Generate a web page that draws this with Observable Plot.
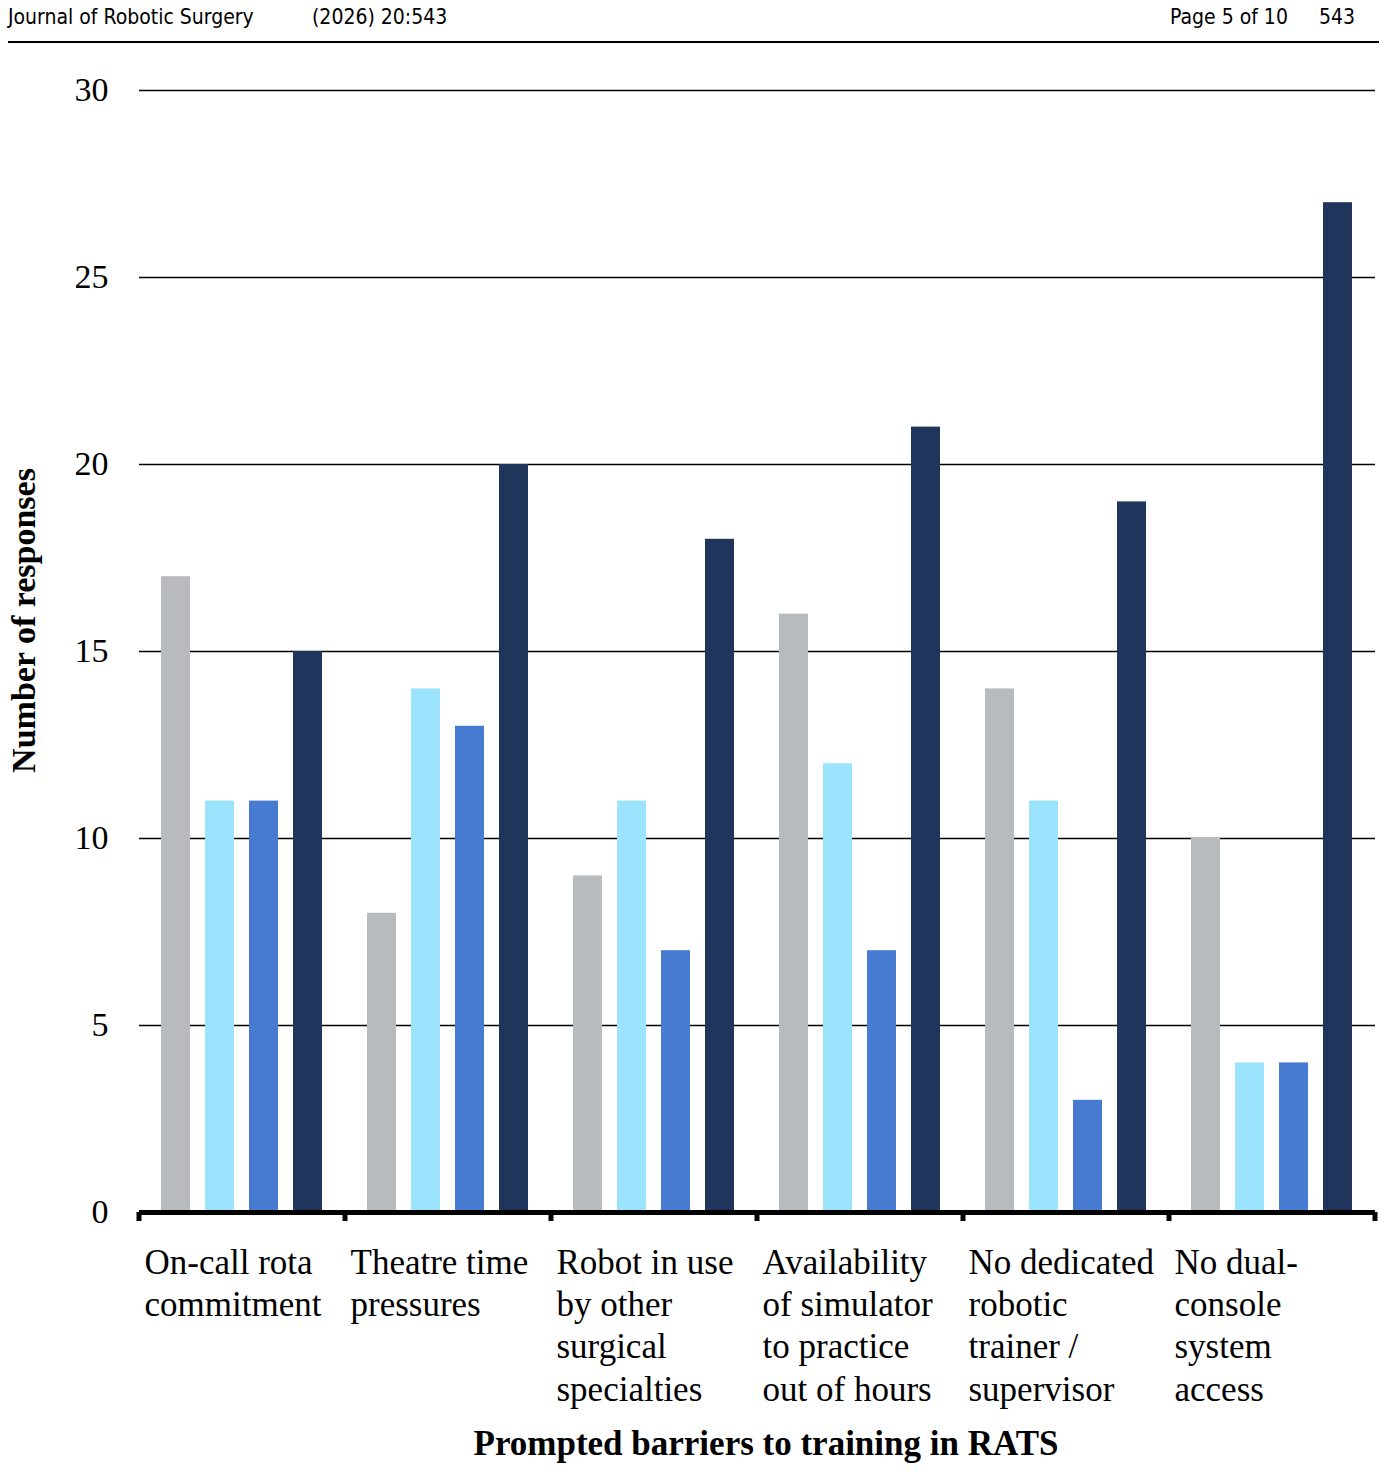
<!DOCTYPE html>
<html>
<head>
<meta charset="utf-8">
<script src="https://cdn.jsdelivr.net/npm/d3@7"></script>
<script src="https://cdn.jsdelivr.net/npm/@observablehq/plot@0.6"></script>
<style>
  html, body { margin: 0; padding: 0; background: #fff; }
  #page { position: relative; width: 1387px; }
  #header { position: relative; height: 45px; font-family: "Liberation Sans Narrow", "DejaVu Sans Condensed", "Open Sans", sans-serif; font-size: 21px; color: #000; }
  #header span { position: absolute; top: 5px; white-space: nowrap; }
  #header .rule { position: absolute; left: 8px; top: 41px; width: 1371px; height: 0; border-top: 2.5px solid #000; }
  #xtitle { font-family: "Liberation Serif", "Times New Roman", serif; font-weight: bold; font-size: 35px; text-align: center; padding-left: 145px; margin-top: 4px; color: #000; }
</style>
</head>
<body>
<div id="page">
  <div id="header">
    <span style="left:8px">Journal of Robotic Surgery</span>
    <span style="left:312px">(2026) 20:543</span>
    <span style="left:1170px">Page 5 of 10</span>
    <span style="left:1319px">543</span>
    <div class="rule"></div>
  </div>
  <div id="chart"></div>
  <div id="xtitle">Prompted barriers to training in RATS</div>
</div>
<script>
// ---- data ----
const categories = [
  "On-call rota commitment",
  "Theatre time pressures",
  "Robot in use by other surgical specialties",
  "Availability of simulator to practice out of hours",
  "No dedicated robotic trainer / supervisor",
  "No dual-console system access"
];
const categoryLabels = [
  "On-call rota\ncommitment",
  "Theatre time\npressures",
  "Robot in use\nby other\nsurgical\nspecialties",
  "Availability\nof simulator\nto practice\nout of hours",
  "No dedicated\nrobotic\ntrainer /\nsupervisor",
  "No dual-\nconsole\nsystem\naccess"
];
const series = ["Series 1", "Series 2", "Series 3", "Series 4"];
const series1 = [17, 8, 9, 16, 14, 10];
const series2 = [11, 14, 11, 12, 11, 4];
const series3 = [11, 13, 7, 7, 3, 4];
const series4 = [15, 20, 18, 21, 19, 27];
const seriesColors = ["#b8bbbe", "#9ce3fd", "#477bd2", "#1f355c"];
const yTicks = [0, 5, 10, 15, 20, 25, 30];
const yTitle = "Number of responses";

const seriesValues = [series1, series2, series3, series4];
const table = [];
categories.forEach((c, i) => {
  series.forEach((s, j) => table.push({category: c, series: s, value: seriesValues[j][i]}));
});
const labelOf = new Map(categories.map((c, i) => [c, categoryLabels[i]]));

const chart = Plot.plot({
  width: 1387,
  height: 1375,
  marginTop: 45,
  marginBottom: 208,
  marginLeft: 137,
  marginRight: 10,
  style: {fontFamily: "'Liberation Serif', 'Times New Roman', serif", color: "#000", background: "#fff"},
  fx: {domain: categories, padding: 0, axis: null},
  x: {domain: series, paddingInner: 0.34, paddingOuter: 0.51, axis: null},
  y: {domain: [0, 30], axis: null},
  color: {domain: series, range: seriesColors},
  marks: [
    Plot.gridY(yTicks, {stroke: "#000", strokeOpacity: 1, strokeWidth: 1.5}),
    Plot.barY(table, {fx: "category", x: "series", y: "value", fill: "series"}),
    Plot.ruleY([0], {stroke: "#000", strokeWidth: 5}),
    Plot.axisY({ticks: yTicks, tickSize: 0, tickPadding: 31, fontSize: 34, label: null}),
    Plot.text(categories, {
      fx: d => d, text: d => labelOf.get(d),
      frameAnchor: "bottom-left", textAnchor: "start", lineAnchor: "top",
      dx: 5, dy: 31, fontSize: 35, lineHeight: 1.21, fill: "#000"
    }),
    Plot.text([yTitle], {
      fx: () => categories[0], text: d => d,
      frameAnchor: "left", textAnchor: "middle", lineAnchor: "middle",
      rotate: -90, dx: -115, dy: -31,
      fontSize: 34, fontWeight: "bold", fill: "#000"
    })
  ]
});

// category boundary ticks on the baseline, positioned with Plot's own scales
const fx = chart.scale("fx");
const ys = chart.scale("y");
const y0 = ys.apply(0);
const edges = categories.map(c => fx.apply(c)).concat([fx.range[1] - 2]);
d3.select(chart).append("g")
  .selectAll("line").data(edges).join("line")
  .attr("x1", d => d).attr("x2", d => d)
  .attr("y1", y0).attr("y2", y0 + 9)
  .attr("stroke", "#000").attr("stroke-width", 5);

document.getElementById("chart").appendChild(chart);
</script>
</body>
</html>
